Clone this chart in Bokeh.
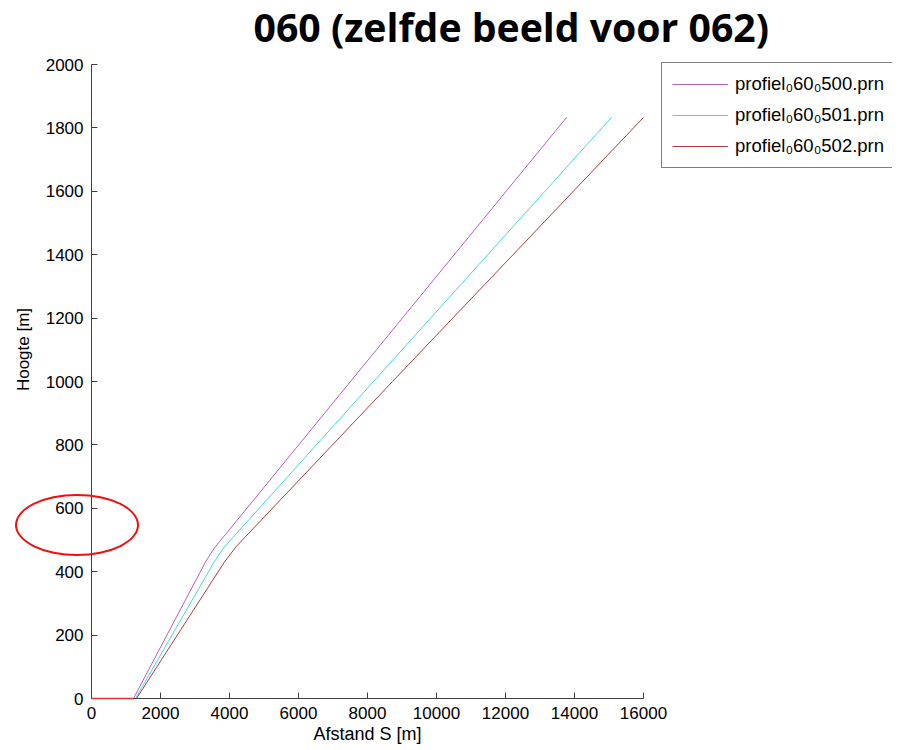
from bokeh.plotting import figure
from bokeh.models import Range1d, Legend, LegendItem, Label, Title, FixedTicker, InlineStyleSheet
from bokeh.embed import file_html
from bokeh.resources import INLINE

# ---- data ----
x_500 = [1217, 3300, 3550, 7507, 13770]
y_500 = [0, 430, 473, 1000, 1833]

x_501 = [1275, 3550, 3850, 8174, 15072]
y_501 = [0, 430, 478, 1000, 1833]

x_502 = [1304, 3850, 4200, 8725, 16000]
y_502 = [0, 430, 480, 1000, 1833]

baseline_x = [0, 1217]
baseline_y = [0, 0]

labels = ["profiel\u208060\u2080500.prn", "profiel\u208060\u2080501.prn", "profiel\u208060\u2080502.prn"]
x_ticks = list(range(0, 16001, 2000))
y_ticks = list(range(0, 2001, 200))
x_axis_span = (0, 16000)
y_axis_span = (0, 2000)

FONT = "Liberation Sans"

# ---- layout (pixels) ----
AX_W, AX_H = 552, 634          # length of the drawn axes
FRAME_W, FRAME_H = 801, 698    # frame also holds the legend (right) and title (top)

# red hand-drawn ellipse around the "600" tick label (annotation layer)
ellipse_css = InlineStyleSheet(css="""
:host::after {
  content: "";
  position: absolute;
  left: 15px; top: 494px; width: 124px; height: 62px;
  box-sizing: border-box;
  border: 2.5px solid #ee1111;
  border-radius: 50%;
  pointer-events: none;
  z-index: 10;
}
""")

p = figure(frame_width=FRAME_W, frame_height=FRAME_H, output_backend="svg", toolbar_location=None,
           x_range=Range1d(0, x_axis_span[1] * FRAME_W / AX_W),
           y_range=Range1d(0, y_axis_span[1] * FRAME_H / AX_H),
           min_border_left=91, min_border_right=8, min_border_top=0, min_border_bottom=50,
           stylesheets=[ellipse_css])
p.outline_line_color = None
p.grid.visible = False
p.background_fill_color = "white"
p.border_fill_color = "white"

for ax in (p.xaxis[0], p.yaxis[0]):
    ax.axis_line_color = "#404040"
    ax.major_tick_line_color = "#404040"
    ax.major_tick_in = 6
    ax.major_tick_out = 0
    ax.minor_tick_line_color = None
    ax.major_label_text_font = FONT
    ax.major_label_text_font_size = "17px"
    ax.major_label_text_color = "black"
    ax.axis_label_text_font = FONT
    ax.axis_label_text_font_size = "17px"
    ax.axis_label_text_font_style = "normal"
    ax.axis_label_text_color = "black"

p.xaxis.bounds = x_axis_span
p.yaxis.bounds = y_axis_span
p.xaxis.ticker = FixedTicker(ticks=x_ticks)
p.yaxis.ticker = FixedTicker(ticks=y_ticks)
p.yaxis.axis_label = "Hoogte [m]"
p.xaxis.major_label_standoff = 8
p.yaxis.major_label_standoff = 8
p.yaxis.axis_label_standoff = 10

# x-axis label, centred under the drawn axis (not under the wider frame)
p.add_layout(Title(text="Afstand S [m]", align="left", offset=222,
                   text_font=FONT, text_font_size="18px", text_font_style="normal",
                   text_color="black", standoff=0), "below")

r1 = p.line(x_500, y_500, line_color="#b85ec0", line_width=1)
r2 = p.line(x_501, y_501, line_color="#48d8d8", line_width=1)
r3 = p.line(x_502, y_502, line_color="#a84040", line_width=1)
p.line(baseline_x, baseline_y, line_color="#e83030", line_width=1.6, level="overlay")

legend = Legend(items=[LegendItem(label=labels[0], renderers=[r1]),
                       LegendItem(label=labels[1], renderers=[r2]),
                       LegendItem(label=labels[2], renderers=[r3])],
                location=(570, 530), label_text_font=FONT, label_text_font_size="18.5px",
                label_text_color="black",
                glyph_width=56, glyph_height=22, label_height=22, label_standoff=7,
                spacing=9, padding=10, margin=0,
                border_line_color="black", border_line_width=1,
                background_fill_color="white", background_fill_alpha=1)
p.add_layout(legend, "center")

p.add_layout(Label(text="060 (zelfde beeld voor 062)", x=162, y=672,
                   x_units="screen", y_units="screen",
                   text_font="Open Sans", text_font_size="39.2px", text_font_style="bold",
                   text_color="black", text_align="left", text_baseline="alphabetic"))

open("out.html", "w").write(file_html(p, INLINE))
